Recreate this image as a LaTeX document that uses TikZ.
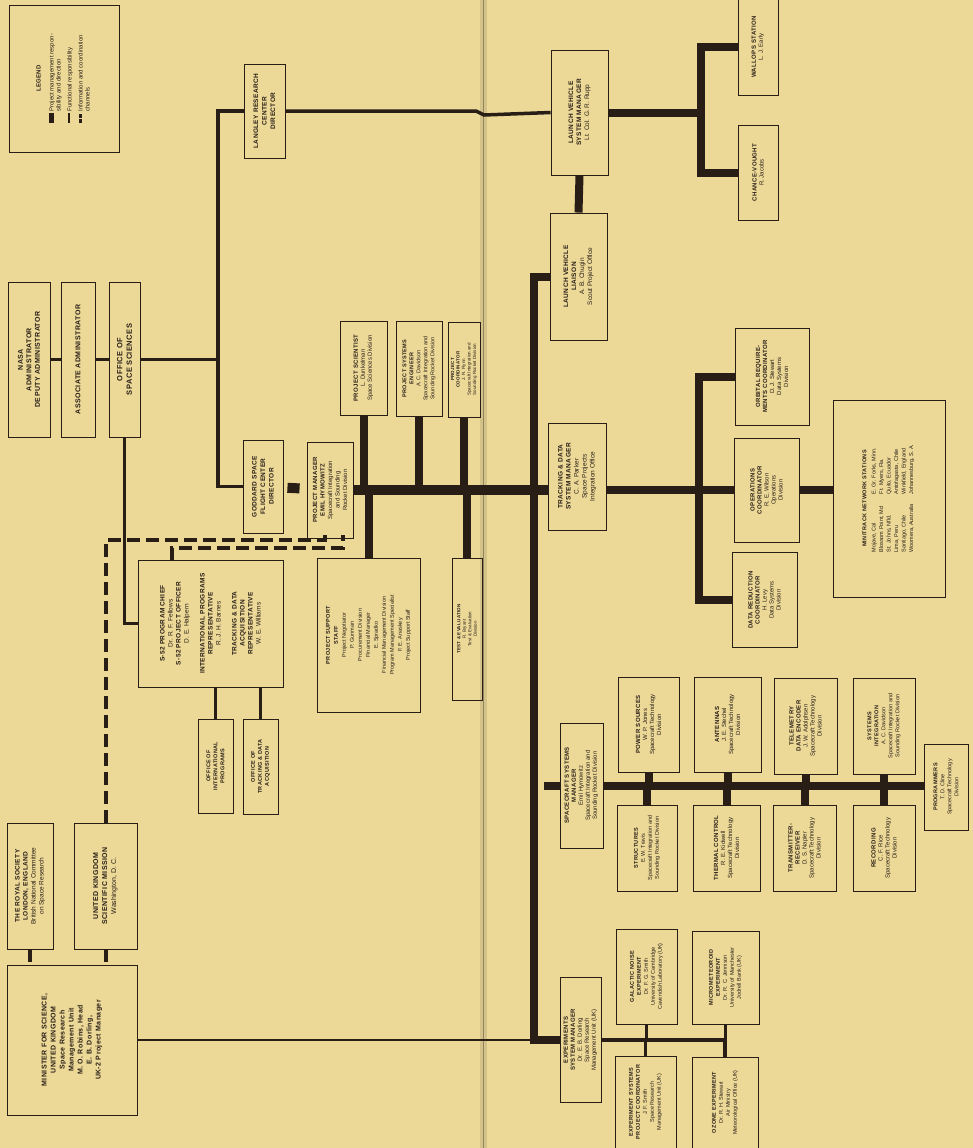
\documentclass[tikz,border=0pt]{standalone}
\usepackage{fontspec}
\setmainfont{Liberation Sans}
\usetikzlibrary{positioning,calc}
\definecolor{paper}{RGB}{236,217,152}
\definecolor{ink}{RGB}{40,30,22}
\newcommand{\hd}[1]{{\bfseries\addfontfeature{LetterSpace=6}#1}}
\tikzset{
  unit/.style={draw=ink,line width=0.9pt,rotate=90,align=center,inner sep=1pt,text=ink,
               font=\fontsize{6}{7}\selectfont},
  sz/.style 2 args={minimum height=#1pt,minimum width=#2pt},
  mgmt/.style={draw=ink,line width=8pt},
  func/.style={draw=ink,line width=3.5pt},
  info/.style={draw=ink,line width=4pt,dash pattern=on 13pt off 6pt},
}
\begin{document}
\begin{tikzpicture}[x=1pt,y=-1pt]
\fill[paper] (0,0) rectangle (973,1148);
\useasboundingbox (0,0) rectangle (973,1148);
\fill[paper!88!ink] (480,0) rectangle (487,1148);
\draw[paper!55!ink,line width=1pt] (483,0) -- (483,1148);

% legend
\node[unit,sz={110}{147},font=\fontsize{6}{7}\selectfont] (legend) at (64,78.5)
  {\hd{LEGEND}\\[7pt]
   \begin{tabular}{@{}l@{\ }l@{}}
   \rule[0ex]{10pt}{5pt} & Project management respon-\\ & sibility and direction\\[4pt]
   \rule[0.5ex]{10pt}{1.5pt} & Functional responsibility\\[4pt]
   \rule[0.3ex]{4pt}{3pt}\,\rule[0.3ex]{4pt}{3pt} & Information and coordination\\ & channels
   \end{tabular}};

% headquarters
\node[unit,sz={42}{155},font=\fontsize{7}{8.5}\selectfont] (admin) at (29,359.5) {\hd{NASA}\\\hd{ADMINISTRATOR}\\\hd{DEPUTY ADMINISTRATOR}};
\node[unit,sz={34}{155},font=\fontsize{7}{8.5}\selectfont] (assoc) at (78,359.5) {\hd{ASSOCIATE ADMINISTRATOR}};
\node[unit,sz={31}{155},font=\fontsize{7.5}{9.5}\selectfont] (oss) at (124.5,359.5) {\hd{OFFICE OF}\\\hd{SPACE SCIENCES}};
\node[unit,sz={41}{94},font=\fontsize{6.5}{8.5}\selectfont] (langley) at (264.5,111) {\hd{LANGLEY RESEARCH}\\\hd{CENTER}\\\hd{DIRECTOR}};
\node[unit,sz={40}{93},font=\fontsize{6.5}{8.5}\selectfont] (gsfc) at (263,486.5) {\hd{GODDARD SPACE}\\\hd{FLIGHT CENTER}\\\hd{DIRECTOR}};
\node[unit,sz={145}{127},font=\fontsize{6.5}{8}\selectfont] (sfiftytwo) at (210.5,623.5)
  {\hd{S-52 PROGRAM CHIEF}\\Dr. R. F. Fellows\\\hd{S-52 PROJECT OFFICER}\\D. E. Halpern\\[8pt]
   \hd{INTERNATIONAL PROGRAMS}\\\hd{REPRESENTATIVE}\\R. J. H. Barnes\\[8pt]
   \hd{TRACKING \& DATA}\\\hd{ACQUISITION}\\\hd{REPRESENTATIVE}\\W. E. Williams};
\node[unit,sz={35}{94},font=\fontsize{5.5}{7}\selectfont] (oip) at (215.5,766) {\hd{OFFICE OF}\\\hd{INTERNATIONAL}\\\hd{PROGRAMS}};
\node[unit,sz={35}{95},font=\fontsize{5.5}{7}\selectfont] (otda) at (260.5,766.5) {\hd{OFFICE OF}\\\hd{TRACKING \& DATA}\\\hd{ACQUISITION}};

% united kingdom
\node[unit,sz={46}{126},font=\fontsize{6.5}{8}\selectfont] (royal) at (30,886) {\hd{THE ROYAL SOCIETY}\\\hd{LONDON, ENGLAND}\\British National Committee\\on Space Research};
\node[unit,sz={63}{126},font=\fontsize{7}{9}\selectfont] (ukmission) at (105.5,886) {\hd{UNITED KINGDOM}\\\hd{SCIENTIFIC MISSION}\\Washington, D. C.};
\node[unit,sz={130}{150},font=\fontsize{7}{9}\selectfont] (minister) at (72,1040)
  {\hd{MINISTER FOR SCIENCE,}\\\hd{UNITED KINGDOM}\\\hd{Space Research}\\\hd{Management Unit}\\\hd{M. O. Robins, Head}\\\hd{E. B. Dorling,}\\\hd{UK-2 Project Manager}};

% project office
\node[unit,sz={46}{96},font=\fontsize{6}{7.5}\selectfont] (pm) at (330,490) {\hd{PROJECT MANAGER}\\\hd{EMIL HYMOWITZ}\\Spacecraft Integration\\and Sounding\\Rocket Division};
\node[unit,sz={47}{94}] (scientist) at (363.5,368) {\hd{PROJECT SCIENTIST}\\L. Dunkelman\\Space Sciences Division};
\node[unit,sz={46}{95},font=\fontsize{5.5}{7}\selectfont] (pse) at (419,368.5) {\hd{PROJECT SYSTEMS}\\\hd{ENGINEER}\\A. C. Davidson\\Spacecraft Integration and\\Sounding Rocket Division};
\node[unit,sz={32}{95},font=\fontsize{4.5}{5.5}\selectfont] (coord) at (464,369.5) {\hd{PROJECT}\\\hd{COORDINATOR}\\J. R. Flynn\\Spacecraft Integration and\\Sounding Rocket Division};
\node[unit,sz={103}{154},font=\fontsize{5.5}{8}\selectfont] (support) at (368.5,635)
  {\hd{PROJECT SUPPORT}\\\hd{STAFF}\\Project Negotiator\\P. Gunman\\Procurement Division\\Financial Manager\\E. Spradko\\Financial Management Division\\Program Management Specialist\\F. E. Anaskey\\Project Support Staff};
\node[unit,sz={30}{142},font=\fontsize{4.5}{5.5}\selectfont] (testeval) at (467,629) {\hd{TEST \& EVALUATION}\\R. Bryant\\Test \& Evaluation\\Division};

% launch vehicle
\node[unit,sz={57}{125},font=\fontsize{6.5}{8}\selectfont] (lvmgr) at (579.5,112.5) {\hd{LAUNCH VEHICLE}\\\hd{SYSTEM MANAGER}\\Lt. Col. G. R. Rupp};
\node[unit,sz={57}{127},font=\fontsize{6.5}{8}\selectfont] (lvliaison) at (578.5,276.5) {\hd{LAUNCH VEHICLE}\\\hd{LIAISON}\\A. B. Chugin\\Scout Project Office};
\node[unit,sz={40}{96}] (wallops) at (758,47) {\hd{WALLOPS STATION}\\L. J. Early};
\node[unit,sz={40}{95}] (chance) at (758,172.5) {\hd{CHANCE-VOUGHT}\\R. Jacobs};

% tracking and data
\node[unit,sz={58}{107},font=\fontsize{6.5}{8}\selectfont] (tdmgr) at (577,476.5) {\hd{TRACKING \& DATA}\\\hd{SYSTEM MANAGER}\\C. A. Parker\\Space Projects\\Integration Office};
\node[unit,sz={74}{97}] (orbital) at (772,376.5) {\hd{ORBITAL REQUIRE-}\\\hd{MENTS COORDINATOR}\\D. J. Stewart\\Data Systems\\Division};
\node[unit,sz={65}{104}] (operations) at (766.5,490) {\hd{OPERATIONS}\\\hd{COORDINATOR}\\R. E. Wilson\\Operations\\Division};
\node[unit,sz={65}{95}] (datared) at (764.5,600) {\hd{DATA REDUCTION}\\\hd{COORDINATOR}\\H. Levy\\Data Systems\\Division};
\node[unit,sz={112}{197},font=\fontsize{5.5}{7.5}\selectfont] (minitrack) at (889,498.5)
  {\hd{MINITRACK NETWORK STATIONS}\\[3pt]
   \begin{tabular}{@{}l@{\hspace{10pt}}l@{}}
   Mojave, Cal & E. Gr. Forks, Minn.\\ Blossom Point, Md & Ft. Myers, Fla.\\
   St. Johns, Nfld. & Quito, Ecuador\\ Lima, Peru & Antofagasta, Chile\\
   Santiago, Chile & Winkfield, England\\ Woomera, Australia & Johannesburg, S. A.
   \end{tabular}};

% spacecraft
\node[unit,sz={43}{125}] (scmgr) at (581.5,785.5) {\hd{SPACECRAFT SYSTEMS}\\\hd{MANAGER}\\Emil Hymowitz\\Spacecraft Integration and\\Sounding Rocket Division};
\node[unit,sz={61}{95}] (power) at (648.5,724.5) {\hd{POWER SOURCES}\\W. P. Jones\\Spacecraft Technology\\Division};
\node[unit,sz={67}{95}] (antennas) at (727.5,724.5) {\hd{ANTENNAS}\\J. E. Stechel\\Spacecraft Technology\\Division};
\node[unit,sz={63}{96}] (telemetry) at (805.5,726) {\hd{TELEMETRY}\\\hd{DATA ENCODER}\\J. W. Adolphsen\\Spacecraft Technology\\Division};
\node[unit,sz={62}{96},font=\fontsize{5.5}{7}\selectfont] (sysint) at (884,726) {\hd{SYSTEMS}\\\hd{INTEGRATION}\\A. C. Davidson\\Spacecraft Integration and\\Sounding Rocket Division};
\node[unit,sz={60}{86},font=\fontsize{5.5}{7}\selectfont] (structures) at (647,848) {\hd{STRUCTURES}\\E. W. Travis\\Spacecraft Integration and\\Sounding Rocket Division};
\node[unit,sz={67}{86}] (thermal) at (726.5,848) {\hd{THERMAL CONTROL}\\R. E. Kidwell\\Spacecraft Technology\\Division};
\node[unit,sz={63}{86}] (transmitter) at (804.5,848) {\hd{TRANSMITTER-}\\\hd{RECEIVER}\\D. S. Napier\\Spacecraft Technology\\Division};
\node[unit,sz={62}{86}] (recording) at (884,848) {\hd{RECORDING}\\C. F. Rice\\Spacecraft Technology\\Division};
\node[unit,sz={44}{86},font=\fontsize{5.5}{7}\selectfont] (programmers) at (946,787) {\hd{PROGRAMMERS}\\T. D. Cline\\Spacecraft Technology\\Division};

% experiments
\node[unit,sz={41}{125}] (expmgr) at (580.5,1040) {\hd{EXPERIMENTS}\\\hd{SYSTEM MANAGER}\\Dr. E. B. Dorling\\Space Research\\Management Unit (UK)};
\node[unit,sz={61}{95},font=\fontsize{5.5}{7}\selectfont] (galactic) at (646.5,976.5) {\hd{GALACTIC NOISE}\\\hd{EXPERIMENT}\\Dr. F. G. Smith\\University of Cambridge\\Cavendish Laboratory (UK)};
\node[unit,sz={67}{93},font=\fontsize{5.5}{7}\selectfont] (micromet) at (725.5,977.5) {\hd{MICROMETEOROID}\\\hd{EXPERIMENT}\\Dr. R. C. Jennison\\University of Manchester\\Jodrell Bank (UK)};
\node[unit,sz={61}{92},font=\fontsize{5.5}{7}\selectfont] (expcoord) at (645.5,1102) {\hd{EXPERIMENT SYSTEMS}\\\hd{PROJECT COORDINATOR}\\J. F. Smith\\Space Research\\Management Unit (UK)};
\node[unit,sz={66}{91},font=\fontsize{5.5}{7}\selectfont] (ozone) at (725,1102.5) {\hd{OZONE EXPERIMENT}\\Dr. R. H. Stewart\\Air Ministry\\Meteorological Office (UK)};

% fork points
\coordinate (hqline) at (218,359.5);
\coordinate (lvfork) at (701,112.5);
\coordinate (tdfork) at (699,490);

% management lines
\draw[mgmt,line width=10pt,shorten <=4pt,shorten >=7pt] (gsfc) -- (pm);
\draw[mgmt,line width=10pt] (pm.south) -- (pm.south -| tdmgr.north);
\foreach \n in {scientist,pse,coord} \draw[mgmt] (\n.west) -- (\n.west |- pm.south);
\foreach \n in {support,testeval} \draw[mgmt] (\n.east) -- (\n.east |- pm.south);
\draw[mgmt] (lvliaison.north) -- ++(-16,0) |- (expmgr.north);
\draw[mgmt] (scmgr.north) -- ++(-16,0);
\draw[mgmt] (lvmgr.west) -- (lvliaison.east);
\draw[mgmt] (lvmgr.south) -- (lvfork);
\draw[mgmt] (wallops.north) -| (lvfork) |- (chance.north);
\draw[mgmt] (tdmgr.south |- tdfork) -- (tdfork);
\draw[mgmt] (orbital.north) -| (tdfork) |- (datared.north);
\draw[mgmt] (tdfork) -- (operations.north);
\draw[mgmt] (operations.south) -- (operations.south -| minitrack.north);
\draw[mgmt] (scmgr.south) -- (scmgr.south -| programmers.north);
\foreach \n in {power,antennas,telemetry,sysint} \draw[mgmt] (\n.west) -- (\n.west |- scmgr.south);
\foreach \n in {structures,thermal,transmitter,recording} \draw[mgmt] (\n.east) -- (\n.east |- scmgr.south);

% functional lines
\draw[func] (admin) -- (assoc);
\draw[func] (assoc) -- (oss);
\draw[func] (oss.south) -- (hqline);
\draw[func] (langley.north) -| (hqline) |- (gsfc.north);
\draw[func] (oss.west) |- (sfiftytwo.north);
\draw[func] (langley.south) -- (476,111) -- (484,115) -- (lvmgr.north);
\foreach \n in {oip,otda} \draw[func] (\n.east) -- (\n.east |- sfiftytwo.west);
\draw[func,line width=2.5pt] (minister.south) -- (minister.south -| expmgr.north);
\draw[func] (expmgr.south) -- (expmgr.south -| micromet.west);
\foreach \n in {galactic,micromet} \draw[func] (\n.west) -- (\n.west |- expmgr.south);
\foreach \n in {expcoord,ozone} \draw[func] (\n.east) -- (\n.east |- expmgr.south);

% information lines
\draw[info] (ukmission.east) |- (325,540) -- (325,535);
\draw[info] (172,560) |- (343,548) -- (343,535);
\draw[info] (royal.west) -- (royal.west |- minister.east);
\draw[info] (ukmission.west) -- (ukmission.west |- minister.east);
\end{tikzpicture}
\end{document}
